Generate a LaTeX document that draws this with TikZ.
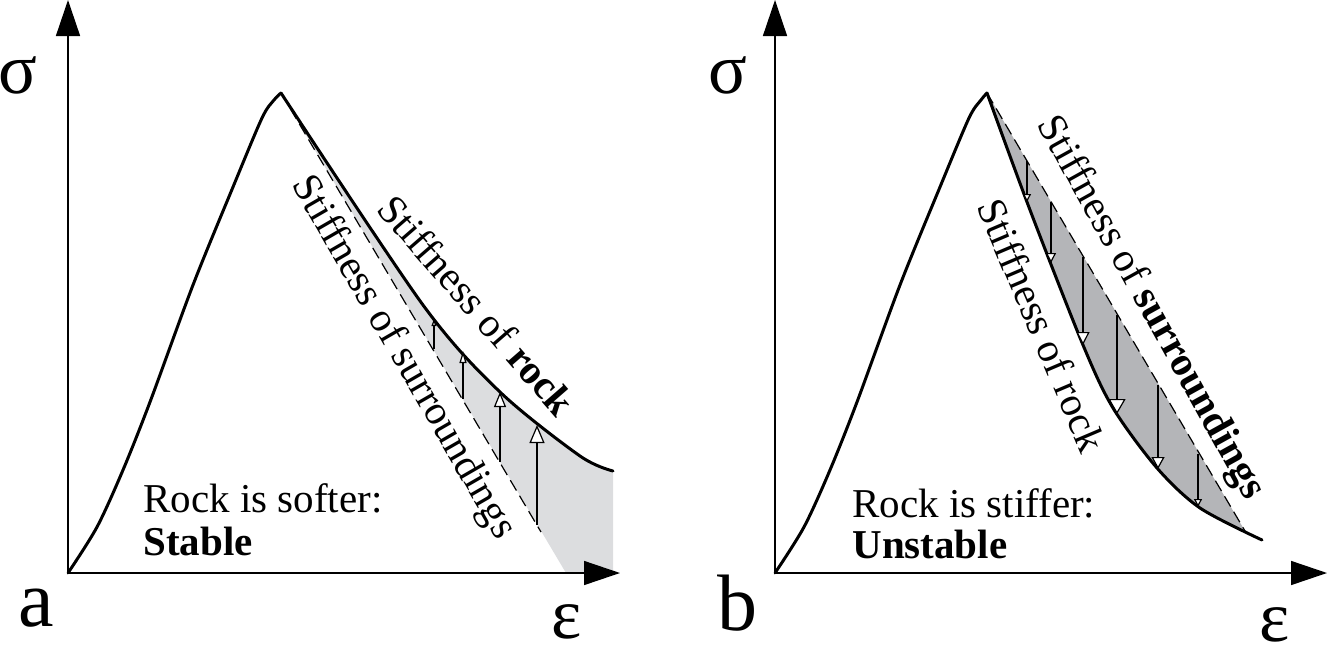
\documentclass[tikz,border=0pt]{standalone}
\usepackage{fontspec}
\setmainfont{Liberation Serif}
\usetikzlibrary{arrows.meta,positioning}
\definecolor{lgray}{RGB}{220,221,223}
\definecolor{dgray}{RGB}{180,181,184}
\tikzset{hd/.style 2 args={-{Triangle[fill=white,length=#1,width=#2]}}}

\begin{document}
\begin{tikzpicture}[x=0.5pt,y=-0.5pt]
\tikzstyle{axis}=[line width=0.75pt,-{Triangle[length=18pt,width=12pt]}]
\tikzstyle{curve}=[line width=1.5pt,line join=round,line cap=round]
\tikzstyle{surr}=[line width=0.6pt,dash pattern=on 6pt off 3pt]
\tikzstyle{thin}=[line width=0.6pt]
\tikzstyle{lbl}=[font=\fontsize{20.5}{22}\selectfont,inner sep=0pt]
\tikzstyle{sym}=[font=\fontsize{36}{36}\selectfont,inner sep=0pt]
\tikzstyle{tag}=[font=\fontsize{40}{40}\selectfont,inner sep=0pt]
\useasboundingbox (0,0) rectangle (1328,659);
% panel a
\coordinate (oA) at (68,573);
\coordinate (yA) at (68,0);
\coordinate (xA) at (620,573);
\coordinate (pkA) at (281,93);
\coordinate (dsA) at (541,532);
\fill [lgray] plot[smooth] coordinates {(281,93) (423,305) (500,392) (580,456) (613,471)} -- (613,573) -- (566,573) -- cycle;
\draw [axis] (oA) -- (yA);
\draw [axis] (oA) -- (xA);
\draw [curve] plot[smooth] coordinates {(68,573) (97,527) (123,470) (150,402) (193,285) (233,187) (262,118) (274,100) (281,93)};
\draw [curve] plot[smooth] coordinates {(281,93) (423,305) (500,392) (580,456) (613,471)};
\draw [surr] (pkA) -- (dsA);
\draw [thin,hd={3.5pt}{2.5pt}] (434,349) -- (434,319);
\draw [thin,hd={6pt}{3.5pt}] (463,399) -- (463,351);
\draw [thin,hd={7.5pt}{6pt}] (500,462) -- (500,392);
\draw [thin,hd={9pt}{7.5pt}] (537,525) -- (537,425);
\node [sym] (sigA) at (18,75) {σ};
\node [sym] (epsA) at (567,622) {ε};
\node [tag] (tagA) at (36,608) {a};
\node [lbl,rotate=-49] (rockA) at (477,305) {Stiffness of \textbf{rock}};
\node [lbl,rotate=-60] (surrA) at (403,358) {Stiffness of surroundings};
\node [lbl,anchor=base west] (softA) at (143,512) {Rock is softer:};
\node [lbl,anchor=base west] (stabA) at (143,555) {\textbf{Stable}};
% panel b
\coordinate (oB) at (775,573);
\coordinate (yB) at (775,0);
\coordinate (xB) at (1327,573);
\coordinate (pkB) at (987,93);
\coordinate (dsB) at (1245,531);
\fill [dgray] plot[smooth] coordinates {(987,93) (1030,210) (1083,345) (1113,408) (1157,468) (1200,508) (1245,531)} -- cycle;
\draw [axis] (oB) -- (yB);
\draw [axis] (oB) -- (xB);
\draw [curve] plot[smooth] coordinates {(775,573) (804,527) (830,470) (857,402) (900,285) (940,187) (969,118) (981,100) (987,93)};
\draw [curve] plot[smooth] coordinates {(987,93) (1030,210) (1083,345) (1113,408) (1157,468) (1200,508) (1262,540)};
\draw [surr] (pkB) -- (dsB);
\draw [thin,hd={4pt}{4pt}] (1027,161) -- (1027,202);
\draw [thin,hd={5pt}{5pt}] (1051,202) -- (1051,263);
\draw [thin,hd={6.5pt}{6.5pt}] (1083,257) -- (1083,345);
\draw [thin,hd={7.5pt}{8.5pt}] (1117,315) -- (1117,414);
\draw [thin,hd={6pt}{6.5pt}] (1158,385) -- (1158,469);
\draw [thin,hd={4pt}{4pt}] (1198,454) -- (1198,507);
\node [sym] (sigB) at (728,75) {σ};
\node [sym] (epsB) at (1275,625) {ε};
\node [tag] (tagB) at (737,603) {b};
\node [lbl,rotate=-61] (surrB) at (1150,308) {Stiffness of \textbf{surroundings}};
\node [lbl,rotate=-67] (rockB) at (1042,325) {Stiffness of rock};
\node [lbl,anchor=base west] (stifB) at (852,517) {Rock is stiffer:};
\node [lbl,anchor=base west] (unstB) at (852,558) {\textbf{Unstable}};
\end{tikzpicture}
\end{document}
